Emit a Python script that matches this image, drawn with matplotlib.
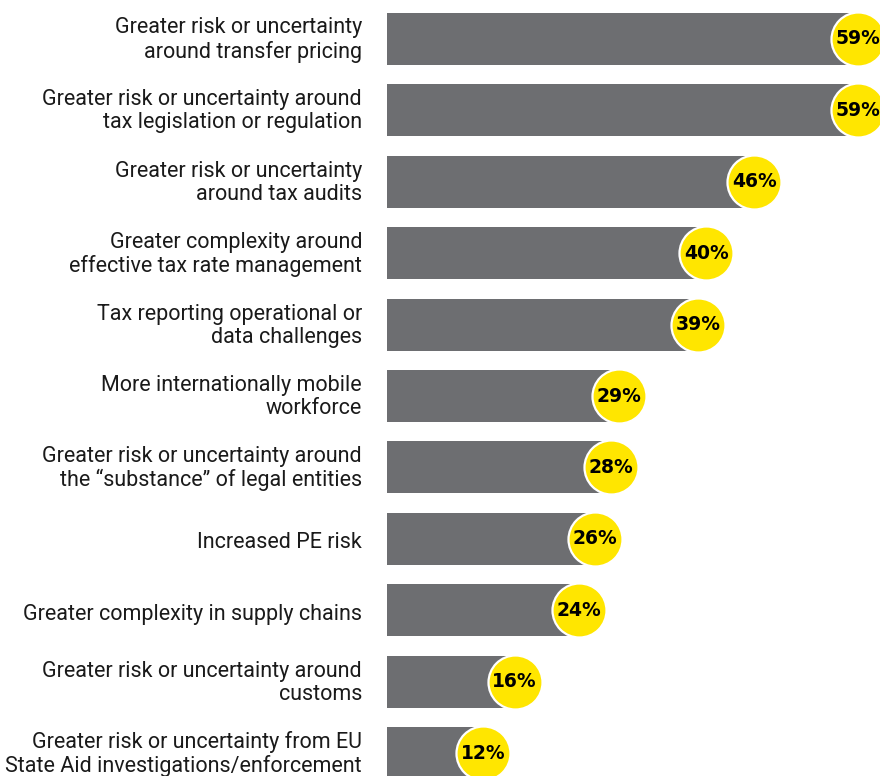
import matplotlib
matplotlib.use("Agg")
import matplotlib.pyplot as plt

categories = [
    "Greater risk or uncertainty\naround transfer pricing",
    "Greater risk or uncertainty around\ntax legislation or regulation",
    "Greater risk or uncertainty\naround tax audits",
    "Greater complexity around\neffective tax rate management",
    "Tax reporting operational or\ndata challenges",
    "More internationally mobile\nworkforce",
    "Greater risk or uncertainty around\nthe \u201csubstance\u201d of legal entities",
    "Increased PE risk",
    "Greater complexity in supply chains",
    "Greater risk or uncertainty around\ncustoms",
    "Greater risk or uncertainty from EU\nState Aid investigations/enforcement",
]
values = [59, 59, 46, 40, 39, 29, 28, 26, 24, 16, 12]

BAR_COLOR = "#6d6e71"
DOT_COLOR = "#ffe600"

W, H = 880, 776
fig = plt.figure(figsize=(W / 100, H / 100), dpi=100)

left_px = 387
top_px = 39 - 35.7
bottom_px = 753 + 35.7
ax = fig.add_axes([left_px / W, 1 - bottom_px / H, (W - left_px) / W, (bottom_px - top_px) / H])

y = list(range(len(values)))
ax.barh(y, values, height=0.726, color=BAR_COLOR, left=0)
ax.scatter(values, y, s=1513, color=DOT_COLOR, edgecolors="white", linewidths=1.6,
           zorder=3, clip_on=False)
for yi, v in zip(y, values):
    ax.text(v, yi, f"{v}%", ha="center", va="center", fontsize=13.5, fontweight="bold",
            color="black", family="DejaVu Sans", zorder=4)

ax.set_xlim(0, (W - left_px) / 7.983)
ax.set_ylim(len(values) - 0.5, -0.5)
ax.axis("off")

for yi, label in zip(y, categories):
    dy = -1 if "\n" in label else -4
    ax.annotate(label, xy=(0, yi), xycoords=("axes fraction", "data"),
                xytext=(-25, dy), textcoords="offset pixels",
                ha="right", va="center", fontsize=15.5, family="Roboto",
                color="#1a1a1a", linespacing=1.12)

fig.savefig("out.png", dpi=100)
